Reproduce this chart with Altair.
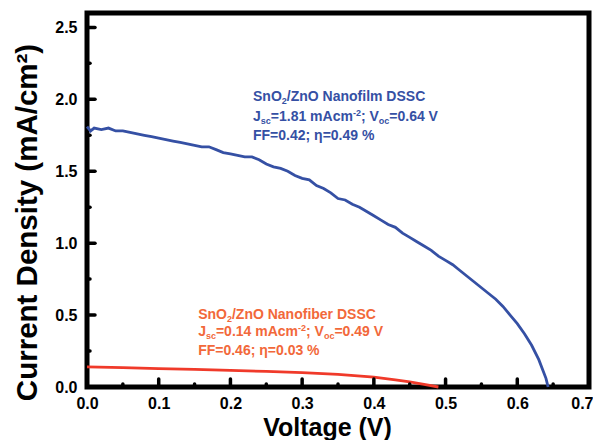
import altair as alt
import pandas as pd

# ---- data ----
film_v = [0.000, 0.005, 0.010, 0.020, 0.030, 0.040, 0.050, 0.060, 0.070, 0.080,
          0.090, 0.100, 0.110, 0.120, 0.130, 0.140, 0.150, 0.160, 0.170, 0.180,
          0.190, 0.200, 0.210, 0.220, 0.230, 0.240, 0.250, 0.260, 0.270, 0.280,
          0.290, 0.300, 0.310, 0.320, 0.330, 0.340, 0.350, 0.360, 0.370, 0.380,
          0.390, 0.400, 0.410, 0.420, 0.430, 0.440, 0.450, 0.460, 0.470, 0.480,
          0.490, 0.500, 0.510, 0.520, 0.530, 0.540, 0.550, 0.560, 0.570, 0.580,
          0.590, 0.600, 0.610, 0.620, 0.630, 0.640, 0.643]
film_j = [1.81, 1.78, 1.80, 1.79, 1.80, 1.78, 1.78, 1.77, 1.76, 1.75,
          1.74, 1.73, 1.72, 1.71, 1.70, 1.69, 1.68, 1.67, 1.67, 1.65,
          1.63, 1.62, 1.61, 1.60, 1.60, 1.58, 1.55, 1.53, 1.52, 1.50,
          1.47, 1.45, 1.44, 1.40, 1.38, 1.35, 1.31, 1.30, 1.27, 1.25,
          1.22, 1.19, 1.16, 1.13, 1.11, 1.07, 1.04, 1.01, 0.98, 0.95,
          0.91, 0.88, 0.85, 0.81, 0.77, 0.73, 0.69, 0.65, 0.61, 0.56,
          0.50, 0.44, 0.37, 0.29, 0.19, 0.06, 0.00]

fiber_v = [0.00, 0.05, 0.10, 0.15, 0.20, 0.25, 0.30, 0.35, 0.40, 0.43, 0.45, 0.47, 0.49]
fiber_j = [0.140, 0.135, 0.128, 0.122, 0.115, 0.108, 0.100, 0.088, 0.068, 0.050, 0.035, 0.018, 0.000]

x_ticks_major = [0.1, 0.2, 0.3, 0.4, 0.5, 0.6]
x_ticks_minor = [0.05, 0.15, 0.25, 0.35, 0.45, 0.55, 0.65]
y_ticks_major = [0.5, 1.0, 1.5, 2.0, 2.5]
y_ticks_minor = [0.25, 0.75, 1.25, 1.75, 2.25]

BLUE = "#3550a4"
ORANGE = "#f2683a"
RED = "#f03a2a"
FONT = "Liberation Sans"

W, H = 502, 374
XMAX, YMAX = 0.7, 2.6
PXV = W / XMAX
PXJ = H / YMAX

# Arial Bold advance widths (per 1000 em) for annotation layout
AW = {"S": 667, "n": 611, "O": 778, "2": 556, "/": 278, "Z": 611, "o": 611, "N": 722,
      "a": 556, "f": 333, "i": 278, "l": 278, "m": 889, " ": 278, "D": 722, "C": 722,
      "J": 556, "s": 556, "c": 556, "=": 584, ".": 278, "A": 722, "-": 333, ";": 333,
      "V": 667, "b": 611, "e": 556, "r": 389, "F": 611, "%": 889}
for d in "0123456789":
    AW[d] = 556


def tw(t, size):
    return sum(AW.get(ch, 600) for ch in t) * size / 1000.0


def line_segments(v0, j0, parts, color):
    rows = []
    off = 0.0
    for text, size, shift in parts:
        rows.append({"x": v0 + off / PXV, "y": j0 - shift / PXJ, "t": text,
                     "s": size, "c": color})
        off += tw(text, size)
    return rows


B, S = 14, 9
ann = []
ann += line_segments(0.2315, 1.986, [("SnO", B, 0), ("2", S, 3), ("/ZnO Nanofilm DSSC", B, 0)], BLUE)
ann += line_segments(0.2315, 1.847, [("J", B, 0), ("sc", S, 3), ("=1.81 mAcm", B, 0), ("-2", S, -5),
                                     ("; V", B, 0), ("oc", S, 3), ("=0.64 V", B, 0)], BLUE)
ann += line_segments(0.2315, 1.715, [("FF=0.42; η=0.49 %", B, 0)], BLUE)
ann += line_segments(0.155, 0.472, [("SnO", B, 0), ("2", S, 3), ("/ZnO Nanofiber DSSC", B, 0)], ORANGE)
ann += line_segments(0.155, 0.354, [("J", B, 0), ("sc", S, 3), ("=0.14 mAcm", B, 0), ("-2", S, -5),
                                    ("; V", B, 0), ("oc", S, 3), ("=0.49 V", B, 0)], ORANGE)
ann += line_segments(0.155, 0.222, [("FF=0.46; η=0.03 %", B, 0)], ORANGE)
ann_df = pd.DataFrame(ann)

curves = pd.DataFrame(
    [{"V": v, "J": j, "cell": "film", "i": k} for k, (v, j) in enumerate(zip(film_v, film_j))]
    + [{"V": v, "J": j, "cell": "fiber", "i": k} for k, (v, j) in enumerate(zip(fiber_v, fiber_j))]
)

xs = alt.Scale(domain=[0, XMAX], nice=False, zero=False)
ys = alt.Scale(domain=[0, YMAX], nice=False, zero=False)

x_axis = alt.Axis(title="Voltage (V)", values=[0, 0.1, 0.2, 0.3, 0.4, 0.5, 0.6, 0.7],
                  format=".1f", ticks=False, domain=False, grid=False,
                  labelFont=FONT, labelFontWeight="bold", labelFontSize=16, labelColor="black",
                  labelPadding=8, labelFlush=False,
                  labelAlign=alt.condition("datum.value >= 0.69", alt.value("right"), alt.value("center")),
                  labelOffset=alt.condition("datum.value >= 0.69", alt.value(4), alt.value(0)),
                  titleFont=FONT, titleFontWeight="bold", titleFontSize=25,
                  titleColor="black", titleX=240, titleY=48, titleBaseline="alphabetic")
y_axis = alt.Axis(title="Current Density (mA/cm²)", values=[0, 0.5, 1.0, 1.5, 2.0, 2.5],
                  format=".1f", ticks=False, domain=False, grid=False,
                  labelFont=FONT, labelFontWeight="bold", labelFontSize=16, labelColor="black",
                  labelPadding=10, labelFlush=False,
                  titleFont=FONT, titleFontWeight="bold", titleFontSize=29.5,
                  titleColor="black", titleX=-60, titleY=209, titleBaseline="middle")

lines = alt.Chart(curves).mark_line(strokeWidth=2.8, interpolate="linear").encode(
    x=alt.X("V:Q", scale=xs, axis=x_axis),
    y=alt.Y("J:Q", scale=ys, axis=y_axis),
    color=alt.Color("cell:N", scale=alt.Scale(domain=["film", "fiber"], range=[BLUE, RED]), legend=None),
    order="i:Q",
)

def xticks(vals, length):
    return alt.Chart(pd.DataFrame({"v": vals})).mark_rule(
        color="black", strokeWidth=3.5, strokeCap="round").encode(
        x=alt.X("v:Q", scale=xs), y=alt.value(H), y2=alt.value(H - length))


def yticks(vals, length):
    return alt.Chart(pd.DataFrame({"v": vals})).mark_rule(
        color="black", strokeWidth=3.5, strokeCap="round").encode(
        y=alt.Y("v:Q", scale=ys), x=alt.value(0), x2=alt.value(length))


texts = alt.Chart(ann_df).mark_text(font=FONT, fontWeight="bold", align="left",
                                    baseline="alphabetic").encode(
    x=alt.X("x:Q", scale=xs), y=alt.Y("y:Q", scale=ys), text="t:N",
    size=alt.Size("s:Q", scale=None), color=alt.Color("c:N", scale=None),
)

chart = alt.layer(
    lines, xticks(x_ticks_major, 8), xticks(x_ticks_minor, 3),
    yticks(y_ticks_major, 8), yticks(y_ticks_minor, 3), texts,
).properties(
    width=W, height=H,
    autosize=alt.AutoSizeParams(type="none"),
    padding={"left": 79, "top": 5, "right": 4, "bottom": 53},
    background="white",
).configure_view(stroke="black", strokeWidth=5)

chart.save("out.html", embed_options={"renderer": "svg", "actions": False})
